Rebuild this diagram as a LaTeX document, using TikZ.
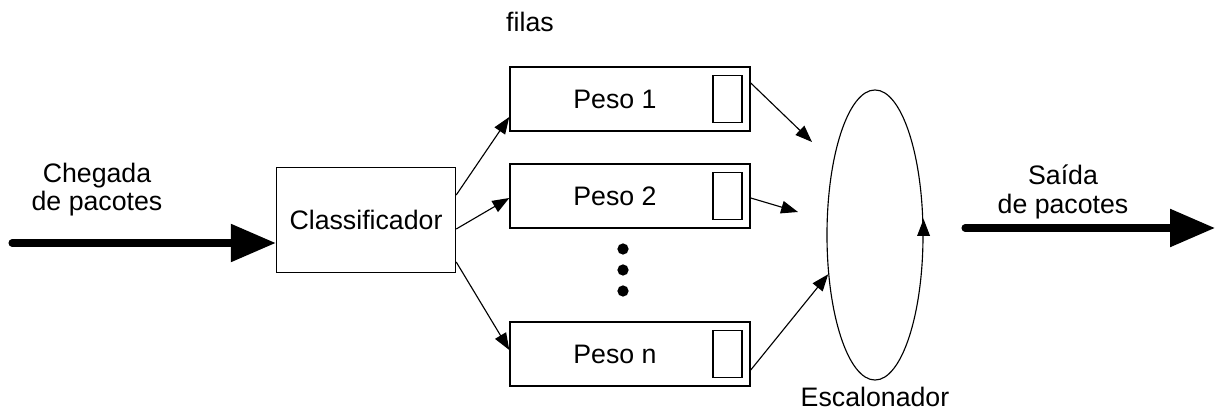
\documentclass[tikz,border=0pt]{standalone}
\usepackage{fontspec}
\setmainfont{Liberation Sans}
\usetikzlibrary{arrows.meta,positioning,calc,shapes}

\tikzset{
  fila/.style={draw,line width=1pt,minimum width=6cm,minimum height=1.6cm,inner sep=0pt},
  slot/.style={draw,line width=1pt,minimum width=0.725cm,minimum height=1.175cm,inner sep=0pt},
  fino/.style={line width=0.8pt,-{Triangle[length=12pt,width=9pt]}},
  grosso/.style={line width=5pt,line cap=round,-{Triangle[length=32pt,width=26pt]}},
  ponto/.style={circle,fill,inner sep=0pt,minimum size=8pt}
}

\begin{document}
\begin{tikzpicture}[x=0.025cm,y=-0.025cm,font=\fontsize{19}{20}\selectfont]
    \useasboundingbox (0,0) rectangle (1218,412);

    % entrada e classificador
    \node [align=center] (cheg) at (97,190) {Chegada\\de pacotes};
    \coordinate (ini) at (12,243);
    \node [draw,line width=1pt,minimum width=4.475cm,minimum height=2.625cm] (cls) at (366,220) {Classificador};
    \draw [grosso] (ini) -- (cls.west |- ini);

    % filas
    \node (filas) at (530,22) {filas};
    \node [fila] (f1) at (630,99) {};
    \node [fila] (f2) at (630,196) {};
    \node [fila] (fn) at (630,354) {};
    \node (t1) at (615,99) {Peso 1};
    \node (t2) at (615,196) {Peso 2};
    \node (tn) at (615,354) {Peso n};
    \node [slot,left=0.2cm of f1.east] (s1) {};
    \node [slot,left=0.2cm of f2.east] (s2) {};
    \node [slot,left=0.2cm of fn.east] (sn) {};
    \node [ponto] (p1) at (623,249) {};
    \node [ponto] (p2) at (623,270) {};
    \node [ponto] (p3) at (623,291) {};

    \draw [fino] ([yshift=0.625cm]cls.east) -- ([yshift=-0.45cm]f1.west);
    \draw [fino] ([yshift=-0.225cm]cls.east) -- ([yshift=-0.05cm]f2.west);
    \draw [fino] ([yshift=-1.05cm]cls.east) -- ([yshift=0.1cm]fn.west);

    % escalonador
    \node [draw,shape=ellipse,line width=0.8pt,minimum width=2.4cm,minimum height=7.25cm,inner sep=0pt] (esc) at (875,235) {};
    \node (escl) at (875,397) {Escalonador};
    \coordinate (e1) at (812,142);
    \coordinate (e2) at (798,212);
    \draw [fino] ([yshift=0.4cm]f1.east) -- (e1);
    \draw [fino] ([yshift=-0.05cm]f2.east) -- (e2);
    \draw [fino] ([yshift=-0.4cm]fn.east) -- (esc.220);
    \draw [fino] (esc.east) -- ([yshift=0.4cm]esc.east);

    % saida
    \node [align=center] (said) at (1063,192) {Saída\\de pacotes};
    \coordinate (sai) at (965,228);
    \coordinate (fim) at (1215,228);
    \draw [grosso] (sai) -- (fim);
\end{tikzpicture}
\end{document}
